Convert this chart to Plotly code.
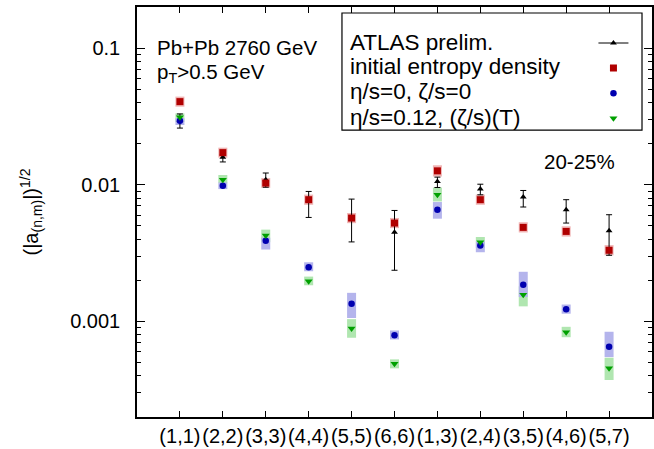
import plotly.graph_objects as go

categories = ["(1,1)", "(2,2)", "(3,3)", "(4,4)", "(5,5)", "(6,6)",
              "(1,3)", "(2,4)", "(3,5)", "(4,6)", "(5,7)"]

atlas = [0.0295, 0.0159, 0.0109, 0.0077, 0.0058, 0.00449, 0.01057, 0.0093, 0.00813, 0.00657, 0.00461]
atlas_hi = [0.033, 0.0166, 0.0122, 0.00894, 0.00786, 0.00649, 0.01138, 0.0101, 0.00909, 0.00778, 0.00604]
atlas_lo = [0.026, 0.0147, 0.0096, 0.00577, 0.00382, 0.00237, 0.00956, 0.00845, 0.00688, 0.00525, 0.00305]

entropy = [0.0406, 0.0172, 0.0103, 0.00778, 0.00571, 0.00525, 0.01265, 0.00778, 0.00488, 0.00456, 0.00332]
entropy_lo = [0.0373, 0.0158, 0.0095, 0.00714, 0.00524, 0.00482, 0.0115, 0.00714, 0.00448, 0.00418, 0.00305]
entropy_hi = [0.0442, 0.0187, 0.0112, 0.00848, 0.00622, 0.00572, 0.0139, 0.00848, 0.00532, 0.00497, 0.00362]

ideal = [0.0294, 0.00984, 0.0039, 0.00249, 0.00135, 0.000794, 0.00657, 0.00359, 0.00186, 0.00123, 0.000653]
ideal_lo = [0.0274, 0.0093, 0.00336, 0.00233, 0.00106, 0.000739, 0.00565, 0.00321, 0.00151, 0.00114, 0.000549]
ideal_hi = [0.0307, 0.0104, 0.0041, 0.00271, 0.00162, 0.000859, 0.00748, 0.00385, 0.00231, 0.00133, 0.000841]

visc = [0.0312, 0.0109, 0.00425, 0.00197, 0.000889, 0.000491, 0.00845, 0.0038, 0.00157, 0.000835, 0.000454]
visc_lo = [0.0288, 0.0103, 0.0038, 0.00184, 0.00076, 0.000454, 0.00755, 0.00345, 0.00129, 0.000767, 0.000373]
visc_hi = [0.0333, 0.0118, 0.0047, 0.00213, 0.00104, 0.000528, 0.00955, 0.00415, 0.00181, 0.000914, 0.000543]

series_names = ["ATLAS prelim.", "initial entropy density",
                "η/s=0, ζ/s=0", "η/s=0.12, (ζ/s)(T)"]

y_major = [0.001, 0.01, 0.1]
y_major_text = ["0.001", "0.01", "0.1"]

FONT = "Liberation Sans, Arial, sans-serif"
x = list(range(len(categories)))

fig = go.Figure()


def band(lo, hi, color):
    fig.add_trace(go.Scatter(
        x=x, y=lo, mode="markers", showlegend=False, hoverinfo="skip",
        marker=dict(size=1, opacity=0),
        error_y=dict(type="data", symmetric=False,
                     array=[h - l for h, l in zip(hi, lo)],
                     arrayminus=[0] * len(lo),
                     color=color, thickness=9, width=0),
    ))


band(entropy_lo, entropy_hi, "#f0b4b4")
band(visc_lo, visc_hi, "#b0e6b0")
band(ideal_lo, ideal_hi, "#b4b4ec")

styles = [
    dict(symbol="triangle-up", size=6, color="black"),
    dict(symbol="square", size=7, color="#b00000"),
    dict(symbol="circle", size=6.5, color="#0000b0"),
    dict(symbol="triangle-down", size=7, color="#00a000"),
]

fig.add_trace(go.Scatter(
    x=x, y=atlas, mode="markers", name=series_names[0], showlegend=False,
    marker=styles[0],
    error_y=dict(type="data", symmetric=False,
                 array=[h - v for h, v in zip(atlas_hi, atlas)],
                 arrayminus=[v - l for v, l in zip(atlas, atlas_lo)],
                 color="black", thickness=1, width=3),
))
fig.add_trace(go.Scatter(x=x, y=entropy, mode="markers", name=series_names[1],
                         showlegend=False, marker=styles[1]))
fig.add_trace(go.Scatter(x=x, y=ideal, mode="markers", name=series_names[2],
                         showlegend=False, marker=styles[2]))
fig.add_trace(go.Scatter(x=x, y=visc, mode="markers", name=series_names[3],
                         showlegend=False, marker=styles[3]))

# legend glyphs (text is drawn to their left, as in the original key)
for i, st in enumerate(styles):
    fig.add_trace(go.Scatter(
        x=[None], y=[None], name="", showlegend=True, hoverinfo="skip",
        mode="lines+markers" if i == 0 else "markers",
        line=dict(color="black", width=1), marker=st,
    ))

minor_vals = [m * 10 ** e for e in range(-4, 0) for m in range(2, 10)]

legend_text_y = [0.9146, 0.8537, 0.7927, 0.7317]
annotations = [
    dict(text=nm, xref="paper", yref="paper", x=0.4097, y=yy,
         xanchor="left", yanchor="middle", showarrow=False, font=dict(size=22.5))
    for nm, yy in zip(series_names, legend_text_y)
]
annotations += [
    dict(text="Pb+Pb 2760 GeV", xref="paper", yref="paper", x=0.035, y=0.9,
         xanchor="left", yanchor="middle", showarrow=False, font=dict(size=20.5)),
    dict(text="p<sub>T</sub>>0.5 GeV", xref="paper", yref="paper", x=0.035, y=0.84,
         xanchor="left", yanchor="middle", showarrow=False, font=dict(size=20.5)),
    dict(text="20-25%", xref="paper", yref="paper", x=0.932, y=0.622,
         xanchor="right", yanchor="middle", showarrow=False, font=dict(size=20.5)),
]

fig.update_layout(
    width=654, height=449,
    margin=dict(l=137, r=2, t=7, b=32),
    paper_bgcolor="white", plot_bgcolor="white",
    font=dict(family=FONT, size=20, color="black"),
    showlegend=True,
    legend=dict(x=0.930, y=0.955, xanchor="center", yanchor="top",
                bgcolor="rgba(0,0,0,0)", borderwidth=0,
                font=dict(size=17), tracegroupgap=0, itemwidth=30),
    xaxis=dict(
        range=[-1, 11], tickmode="array", tickvals=x, ticktext=categories,
        showline=True, linecolor="black", linewidth=1.5, mirror="allticks",
        ticks="inside", ticklen=6, tickcolor="black", showgrid=False, zeroline=False,
        tickfont=dict(size=20), automargin=False, tickangle=0,
    ),
    yaxis=dict(
        type="log", range=[-3.699, -0.699],
        tickmode="array", tickvals=y_major, ticktext=y_major_text,
        showline=True, linecolor="black", linewidth=1.5, mirror="allticks",
        ticks="inside", ticklen=8, tickcolor="black", showgrid=False, zeroline=False,
        tickfont=dict(size=20), automargin=False, ticklabelstandoff=11,
        minor=dict(tickmode="array", tickvals=minor_vals, ticks="inside",
                   ticklen=4, tickcolor="black", showgrid=False),
        title=dict(text="(|a<sub>(n,m)</sub>|)<sup>1/2</sup>", font=dict(size=20), standoff=26),
    ),
    shapes=[dict(type="rect", xref="paper", yref="paper",
                 x0=0.398, x1=0.9806, y0=0.6996, y1=0.9854,
                 line=dict(color="black", width=1.2), fillcolor="white", layer="below")],
    annotations=annotations,
)

fig.write_html("out.html", config={"displayModeBar": False},
               post_script="document.body.style.margin='0';document.body.style.overflow='hidden';")
